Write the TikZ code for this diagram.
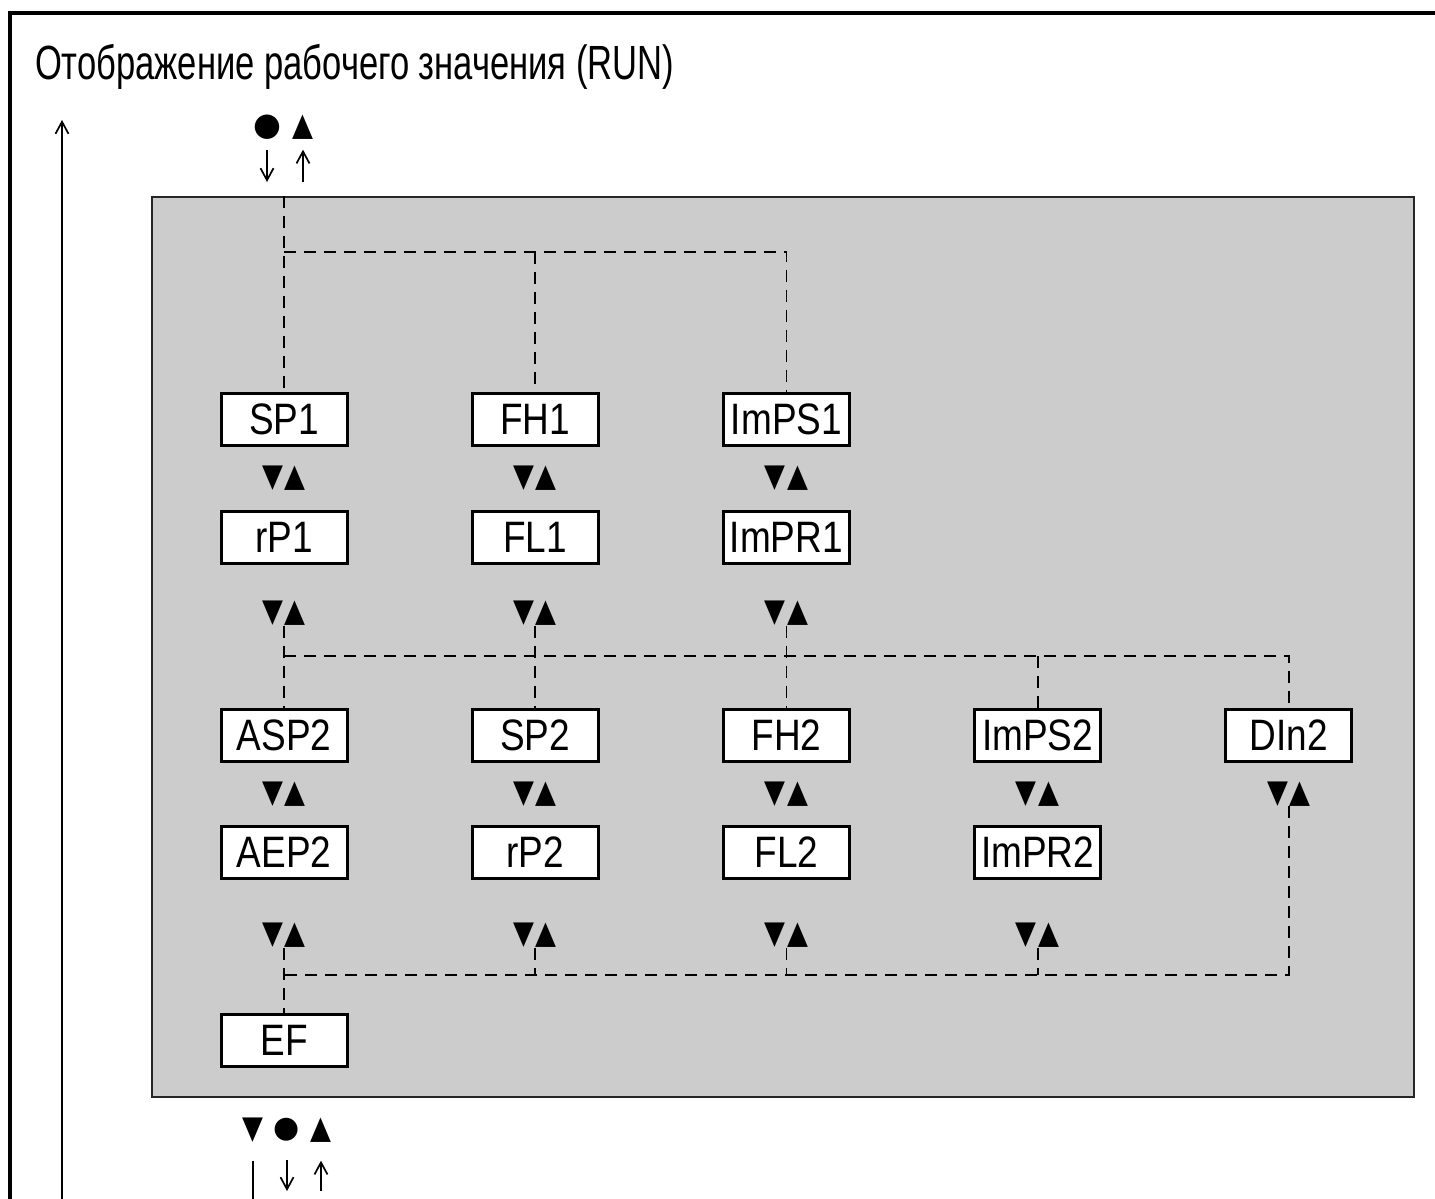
\documentclass[tikz,border=0pt]{standalone}
\usepackage{fontspec}
\setmainfont{Liberation Sans}[FakeStretch=0.84]
\newfontfamily\titlefont{Liberation Sans}[FakeStretch=0.72]
\newfontfamily\symfont{DejaVu Sans}
\newfontfamily\symnarrow{DejaVu Sans}[FakeStretch=0.85]
\usetikzlibrary{positioning, arrows.meta, calc}
\definecolor{panelgray}{gray}{0.8}
\def\keypair{\symnarrow\fontsize{16}{16}\selectfont ▼\kern0.8pt▲}
\tikzset{
  par/.style={draw, line width=1.5pt, fill=white, minimum width=63pt,
    minimum height=26pt, inner sep=0pt, font=\fontsize{22}{22}\selectfont},
  keys/.style={inner sep=0pt},
  link/.style={dash pattern=on 6pt off 4pt, line width=0.9pt},
  press/.style={-{Straight Barb[length=6pt,width=6.5pt]}, line width=0.85pt},
}

\begin{document}
\begin{tikzpicture}[x=0.5pt, y=-0.5pt, node distance=31.25pt and 61.1pt]
            \useasboundingbox (0,0) rectangle (1435,1199);
            % frame and return arrow
            \draw[line width=2pt] (1435,13) -- (10,13) -- (10,1199);
            \node[anchor=west, font=\titlefont\fontsize{24}{24}\selectfont] (title) at (28,67) {Отображение рабочего значения (RUN)};
            \coordinate (back) at (62,1199);
            \coordinate (backtip) at (62,120);
            \draw[press] (back) -- (backtip);

            % grey panel
            \node[draw=black!85, line width=1pt, fill=panelgray, minimum width=631pt,
              minimum height=450pt, inner sep=0pt] (panel) at (783,647) {};

            % first group
            \node [par] (SP1) at (284,419.5) {SP1};
            \node [par, right=of SP1] (FH1) {FH1};
            \node [par, right=of FH1] (ImPS1) {ImPS1};
            \node [par, below=of SP1] (rP1) {rP1};
            \node [par, below=of FH1] (FL1) {FL1};
            \node [par, below=of ImPS1] (ImPR1) {ImPR1};

            % second group
            \node [par, below=71.5pt of rP1] (ASP2) {ASP2};
            \node [par, right=of ASP2] (SP2) {SP2};
            \node [par, right=of SP2] (FH2) {FH2};
            \node [par, right=of FH2] (ImPS2) {ImPS2};
            \node [par, right=of ImPS2] (DIn2) {DIn2};
            \node [par, below=of ASP2] (AEP2) {AEP2};
            \node [par, below=of SP2] (rP2) {rP2};
            \node [par, below=of FH2] (FL2) {FL2};
            \node [par, below=of ImPS2] (ImPR2) {ImPR2};
            \node [par, below=66.5pt of AEP2] (EF) {EF};

            % key pairs
            \node [keys] (k11) at ($(SP1)!0.5!(rP1)$) {\keypair};
            \node [keys] (k12) at ($(FH1)!0.5!(FL1)$) {\keypair};
            \node [keys] (k13) at ($(ImPS1)!0.5!(ImPR1)$) {\keypair};
            \node [keys] (k21) at ([yshift=-38pt]rP1) {\keypair};
            \node [keys] (k22) at ([yshift=-38pt]FL1) {\keypair};
            \node [keys] (k23) at ([yshift=-38pt]ImPR1) {\keypair};
            \node [keys] (k31) at ($(ASP2)!0.5!(AEP2)$) {\keypair};
            \node [keys] (k32) at ($(SP2)!0.5!(rP2)$) {\keypair};
            \node [keys] (k33) at ($(FH2)!0.5!(FL2)$) {\keypair};
            \node [keys] (k34) at ($(ImPS2)!0.5!(ImPR2)$) {\keypair};
            \node [keys] (k35) at ($(DIn2)!0.5!(ImPR2-|DIn2)$) {\keypair};
            \node [keys] (k41) at ([yshift=-41.5pt]AEP2) {\keypair};
            \node [keys] (k42) at ([yshift=-41.5pt]rP2) {\keypair};
            \node [keys] (k43) at ([yshift=-41.5pt]FL2) {\keypair};
            \node [keys] (k44) at ([yshift=-41.5pt]ImPR2) {\keypair};

            % dashed links
            \coordinate (j1) at (284,252);
            \coordinate (j2) at (284,656);
            \coordinate (j3) at (284,975);
            \draw[link] (SP1 |- panel.north) -- (SP1.north);
            \draw[link] (j1) -- (j1 -| ImPS1) -- (ImPS1.north);
            \draw[link] (j1 -| FH1) -- (FH1.north);
            \draw[link] (k21.south) -- (ASP2.north);
            \draw[link] (k22.south) -- (SP2.north);
            \draw[link] (k23.south) -- (FH2.north);
            \draw[link] (j2) -- (j2 -| DIn2) -- (DIn2.north);
            \draw[link] (j2 -| ImPS2) -- (ImPS2.north);
            \draw[link] (k41.south) -- (EF.north);
            \draw[link] (k35.south) -- (k35 |- j3) -- (j3);
            \draw[link] (k42.south) -- (k42 |- j3);
            \draw[link] (k43.south) -- (k43 |- j3);
            \draw[link] (k44.south) -- (k44 |- j3);

            % keys entering and leaving
            \node [keys, font=\symfont\fontsize{16}{16}\selectfont] (set) at (267,127) {●};
            \node [keys, font=\symnarrow\fontsize{16}{16}\selectfont] (up) at (303,127) {▲};
            \draw[press] ([yshift=-5pt]set.south) -- ([yshift=7pt]set |- panel.north);
            \draw[press] ([yshift=7pt]up |- panel.north) -- ([yshift=-5pt]up.south);
            \node [keys, font=\symnarrow\fontsize{16}{16}\selectfont] (down2) at (253,1130) {▼};
            \node [keys, font=\symfont\fontsize{15}{15}\selectfont] (set2) at (287,1130) {●};
            \node [keys, font=\symnarrow\fontsize{16}{16}\selectfont] (up2) at (321,1130) {▲};
            \draw[line width=0.85pt] ([yshift=-9pt]down2.south) -- (down2 |- back);
            \draw[press] ([yshift=-9pt]set2.south) -- ([yshift=4pt]set2 |- back);
            \draw[press] ([yshift=4pt]up2 |- back) -- ([yshift=-9pt]up2.south);
        \end{tikzpicture}
\end{document}
